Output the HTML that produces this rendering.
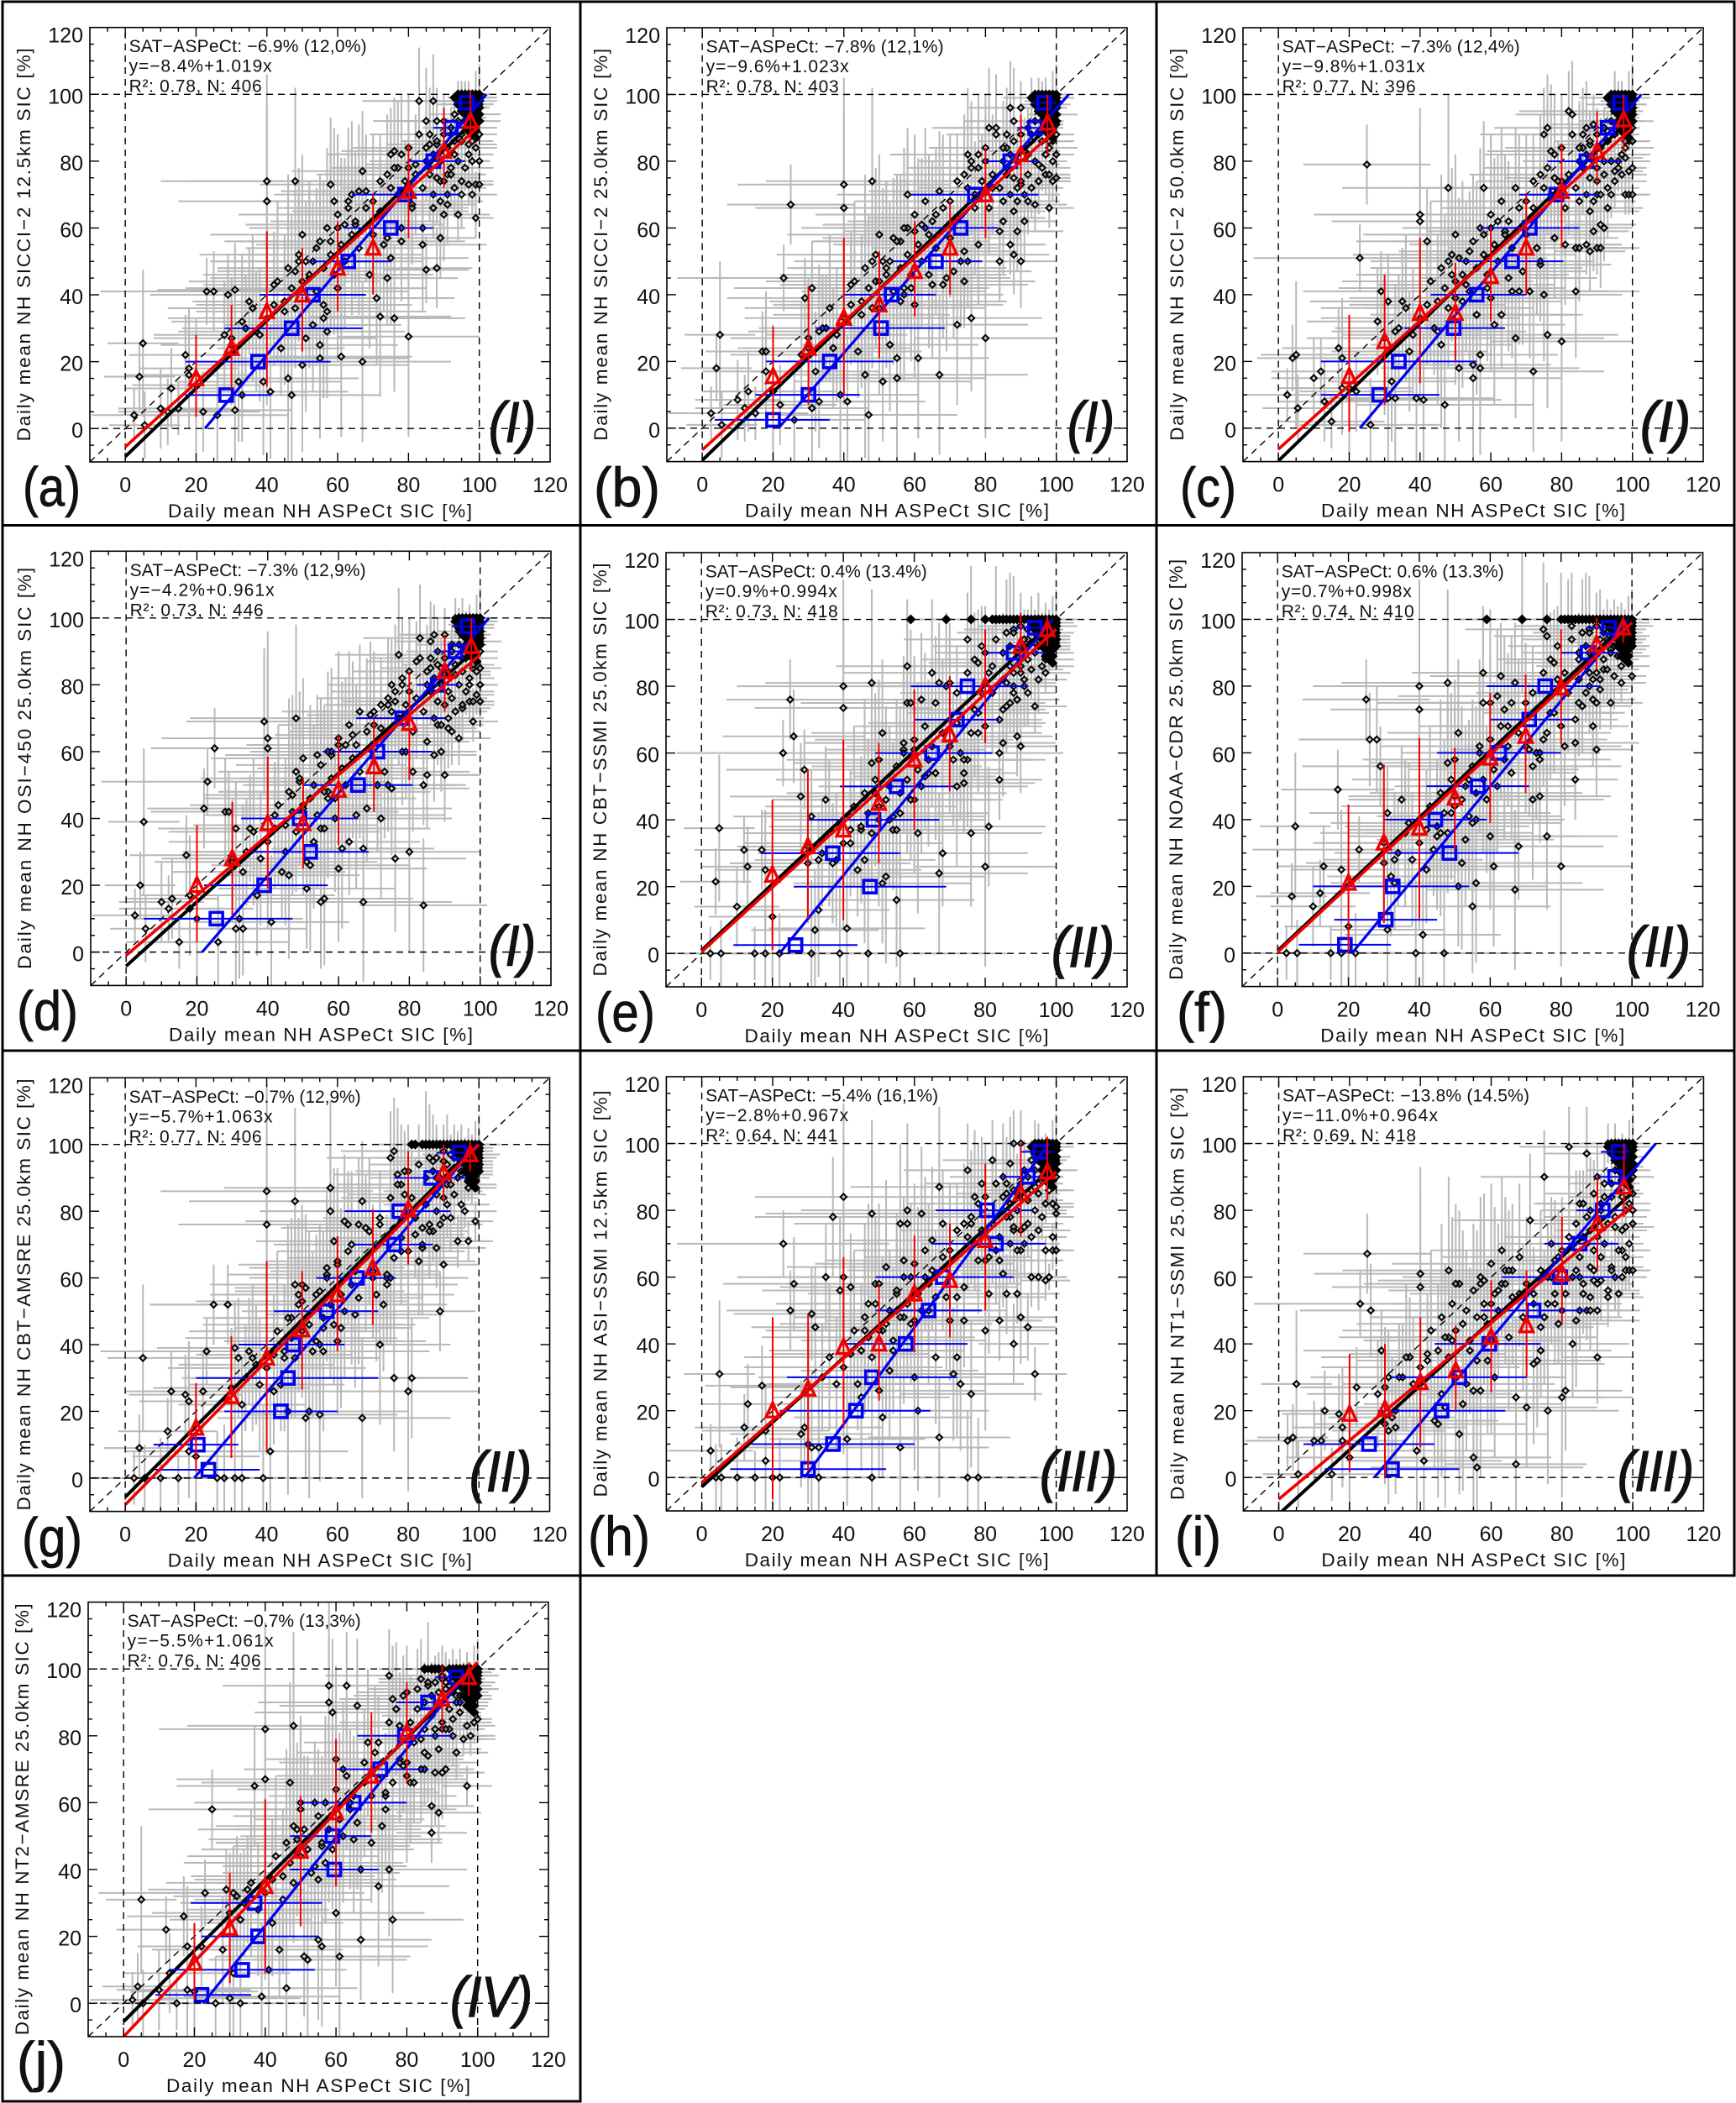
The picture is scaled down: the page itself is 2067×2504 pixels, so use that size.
<!DOCTYPE html>
<html lang="en">
<head>
<meta charset="utf-8">
<title>Daily mean NH satellite SIC versus ASPeCt SIC</title>
<style>
html,body{margin:0;padding:0;background:#fff;}
svg{display:block;}
text{font-family:"Liberation Sans",sans-serif;fill:#111;}
</style>
</head>
<body>
<svg id="chart" xmlns="http://www.w3.org/2000/svg" width="2067" height="2504" viewBox="0 0 2067 2504"></svg>
<script>
// ---- Shared ASPeCt values (x axis) ----
const aspectX = [
2.5,4,5,5.5,10,12,13,15,17,18,
18,20,22,23,25,26,28,29,30,31,
31,32,33,33,35,37,39,40,40,41,
42,44,45,46,47,48,48,49,50,51,
51,52,53,54,55,55,56,56,57,57,
58,58,59,60,60,61,62,63,64,65,
66,67,67,68,69,70,71,72,72,73,
74,74,75,75,76,76,77,78,78,79,
80,80,81,82,83,84,84,85,85,86,
86,87,87,88,88,88,89,89,90,90,
90,91,91,92,92,93,93,94,94,95,
95,95,96,96,96,97,97,97,97,98,
98,98,98,98,99,99,99,99,99,99,
100,100,100,100,100,100,100,100,100,100];
const aspectErr = [
12,10,10,10,12,14,13,15,16,14,
18,18,16,30,18,20,20,22,20,22,
16,18,20,18,15,22,22,30,25,22,
20,18,25,20,25,30,22,25,30,25,
20,28,25,20,22,25,25,30,22,28,
30,20,22,20,25,20,28,20,22,25,
22,20,25,24,18,20,22,20,25,18,
20,15,22,18,20,15,18,14,18,16,
20,14,16,14,16,18,12,15,12,14,
10,12,10,10,14,9,10,12,10,9,
12,8,10,8,10,10,7,9,6,8,
10,6,9,6,5,7,8,5,4,7,
5,8,4,6,5,4,6,3,5,4,
4,3,5,2,6,3,4,2,5,3];
const satErr = [
8,10,22,10,12,10,12,8,12,18,
14,20,12,10,12,14,16,12,18,14,
22,18,20,14,16,18,22,32,28,20,
16,14,22,25,30,28,18,20,26,18,
22,26,20,18,20,24,20,24,18,26,
26,20,22,28,22,24,20,16,22,22,
20,18,24,16,22,18,20,24,16,20,
14,18,20,14,22,16,20,16,18,14,
30,14,18,12,16,20,12,16,10,14,
12,14,9,12,16,10,12,9,14,10,
8,12,9,10,7,9,6,8,7,10,
6,8,5,7,4,6,4,8,3,6,
4,3,5,2,6,4,3,5,2,7,
5,3,8,4,2,6,3,5,2,9];

// ---- Satellite SIC values per panel (y axis) ----
const satA = [
4,15.5,25.5,1,6,5,12,6,22,18,
16,13,5,41,41,4,28,40,25,41.5,
5.5,14,32,10,38,29,14,74,68,11,
43,24,35,15,10,74,47,50,19,50,
27,45,31,54,25,21,37,33,29,35,
56,73,68,60,42,21.5,61,66,70,61,
71,77,20,71,46,58,39,33.5,65,55,
45,57,51,82,33,83,78,60,56,70,
27.5,78,67,79,98,55,60,92,47.5,76,
85,98,66,48,85,92,57,74,64,84,
92,67,76,78,88,82,94,64,97,70,
98,86,90,97,99,73,85,96,100,70,
80,92,96,99,63,73,84,93,97,100,
73,80,88,92,94,96,97,98,99,100];
const satB = [
4.5,18,28,1,8.5,6,11,4.5,23,23,
17,11,7,45,67,2.5,22,39,24,42,
6,17,29,8,30,24,10,73,66,8,
43,23,34,16,4,74,50,44,36,14,
50,48,25,57,21,15,56,38,42,40,
60,70,42,59,37,21,61,60,46,43,
64,71,16,43,45,57,47,31,63,50,
44,53,82,50,33,80,66,78,55,74,
27,80,90,72,90,59,50,62,68,76,
84,96,55,52,92,65,59,72,50,73,
96,62,83,68,82,88,99,67,92,74,
99,79,86,97,98,76,82,97,100,66,
76,84,96,99,74,80,86,92,97,100,
75,82,88,91,94,96,97,98,99,100];
const satC = [
10,21,22,6,15,17,8,2,24,21,
12,12,11,51,79,1,32,41,22,38,
9,14,9,29,38,23,9,64,62,8.5,
56,30,29,25,7,72,50,46,39,51,
18,38,43,53,19,15,34,34,22,18,
58,72,42,60,39,31,62,34,59,45,
41,72,27,41,47,58,41,17,66,54,
49,50,40,88,28,90,83,75,57,70,
26,74,55,95,94,41,54,54,68,78,
84,90,55,53,65,85,59,91,78,70,
54,54,61,60,80,66,89,92,70,97,
99,77,80,97,98,76,82,96,100,70,
81,84,92,99,70,77,86,93,97,100,
70,78,86,90,92,95,97,98,99,100];
const satD = [
11,20,39,7,15,13,16,3,29,17,
13,10,43,51,61,3,42,42,28,37,
7,10,24,7,37,17,69,64,61,9,
41,24,30,23,47,70,54,51,43,19,
27,26,33,59,15,37,16,37,46,48,
59,60,40,62,25,31,62,33,65,41,
72,31,15,43,71,72,50,40,67,54,
50,74,49,80,28,75,89,60,80,60,
30,78,54,87,94,14,50,53,63,85,
93,59,95,68,75,90,60,85,53,83,
95,67,78,66,92,83,100,64,96,73,
100,84,88,94,98,75,80,96,99,69,
75,85,93,99,77,84,90,95,98,100,
75,80,85,90,93,95,97,98,99,100];
const satE = [
0,21.5,37.5,0,14,31,26,0,31,25,
0,11,0,60,76,65,47,55,32,41,
0,7,13,28,46,27,0,80,73.5,7.5,
33,25,37,28,0,81,57,48,40,21,
66,23,40,37,16,37,42,0,61,63,
75,86,75,61,46,36,76,53,54,84,
75,81,24,30,80,81,58,50,69,60,
51,54,58,94,36,100,73,87,66,78,
26,90,38,86,100,60,52,63,73,81,
100,100,75,78,97,84,65,76,62,86,
100,80,92,78,94,98,100,74,93,82,
100,100,86,95,98,84,88,97,100,90,
94,100,97,98,92,96,99,100,95,100,
93,95,96,97,98,98,99,99,100,100];
const satF = [
0,17,38,0,14,18,26,0,49,25,
0,8,0,31,76,64,64,56,33,42,
7,23,28,21,46,39,0,80,73,5.5,
25,31,35,36,0,81,57,42,47,20,
66,27,34,52,14,39,40,21,62,62,
75,84,46,75,35,26,77,83,73,68,
75,81,19,32,100,75,61,46,56,60,
47,60,97,64,35,95,72,87,72,82,
26,100,62,100,98,63,52,75,88,74,
100,100,78,84,97,90,68,82,61,75,
100,79,100,85,96,94,100,75,91,83,
100,93,89,97,98,81,86,97,100,92,
95,100,96,98,94,96,99,100,97,100,
83,93,95,97,98,98,99,99,100,100];
const satG = [
0,9,36,0,0,14,26,0,25,23,
8,6.5,26,38,52,0,0,52,27,39,
0,36,0,22,38,34,0,86,76,8,
26,28,36,20,48,83,58,55,53,18,
57,20,38,55,19,40,45,38,63,61,
87,80,71,65,41,45,77,76,70,49,
76,83,18,75,74,60,55,40,76,52,
60,61,60,96,30,98,91,68,88,85,
26,92,30,73,65,69,75,100,100,76,
100,95,74,69,90,85,50,88,64,78,
95,88,100,78,92,96,100,71,97,82,
100,91,80,92,98,71,87,97,100,88,
93,100,97,98,77,91,97,99,95,100,
93,95,96,97,97,98,99,99,100,100];
const satH = [
8,0,31,0,0,15,22,0,27.5,5,
14,0,0,70,50,58,13,15,10,49,
9,45,9,0,60,78,56,60,84,11.5,
57,28,24,44,52,79,0,58,26,18,
44,63,32,38,50,55,9,76,65,48,
80,76,60,30,47,20,79,60,50,71,
36,12,87,76,54,47,31,36,54,28,
47,57,0,92,25,76,84,65,0,88,
44,65,55,95,68,65,47,90,61,85,
55,94,78,40,74,100,85,55,48,100,
68,75,92,45,83,60,95,31,100,60,
100,85,78,92,98,59,68,90,100,86,
60,92,96,99,68,72,82,90,96,100,
68,79,81,90,92,95,96,98,99,100];
const satI = [
11,12,28,1,11,11,20,1,19,15,
11,6,27,52,67,50,25,38,16,30,
14,18,15,20,30,36,8,61,57,5,
35,17,16,25,21,62,42,41,30,13,
58,22,28,38,6,26,35,3,58,26,
59,48,35,41,52,30,56,58,62,42,
62,4,24,55,48,21,77,34,52,35,
38,45,48,90,20,60,60,55,52,66,
24,50,26,99,40,47,62,60,82,72,
55,97,50,50,80,63,59,68,36,90,
50,59,82,70,84,54,100,63,88,60,
100,75,92,55,97,60,68,84,100,62,
66,75,92,99,62,70,82,90,96,100,
62,76,80,85,90,93,96,98,99,100];
const satJ = [
1,5,31,0,4,22,9,0,26,17,
4,3.5,17,33,58,0,16,34,1.5,33,
9,32,25,0,34,65,2,82,67,10,
24,16,31,4.5,66,83,53,49,60,14,
52,13,39,60,37,19,47,17,42,60,
95,90,87,73,27,14,70,95,60,49,
89,19,40,72,78,48,75,35,67,53,
62,63,40,98,25,91,88,83,73,71,
72,93,66,66,88,79,97,75,70,100,
95,59,51,82,69,88,93,57,69,97,
82,70,96,82,95,80,100,75,92,90,
100,87,79,95,98,65,83,97,100,80,
89,94,97,99,84,92,96,99,95,100,
85,94,96,97,98,98,99,99,100,100];

// ---- Extra mid-range points read around the one-to-one line ----
const midX = [30,34,36,38,40,42,43,45,46,47,48,49,50,50,52,53,54,55,56,57,58,59,60,61,62,63,64,65,66,68];
const midY = [27,30,36,28,33,37,44,38,48,42,36,52,44,58,46,50,41,56,48,60,52,46,64,55,50,68,58,62,54,66];
const midErrX = [22,18,24,20,28,22,25,26,20,30,24,28,22,26,30,20,26,24,30,22,26,20,28,24,22,20,26,24,18,22];
const midErrY = [18,16,22,20,26,18,24,20,28,22,18,26,20,24,28,18,22,20,26,24,22,18,24,26,20,22,24,18,20,22];

// ---- Extra high-concentration band points ----
const bandX = [70,72,74,75,76,77,78,79,80,81,82,83,84,85,85,86,86,87,87,88,88,89,89,90,90,91,91,92,92,93,93,94,94,95,95,96,96,97,97,98];
const bandLow = [68,74,76,72,78,70,82,74,84,66,76,88,72,80,84,78,88,70,82,75,86,68,80,74,88,70,84,76,90,72,86,80,92,74,88,78,90,82,94,86];
const bandHigh = [62,78,58,84,66,88,72,92,68,84,78,94,70,90,82,96,74,86,92,80,96,76,90,84,98,82,94,88,97,85,93,90,98,92,96,94,98,91,99,95];
const bandI = [58,55,62,48,52,70,65,46,68,55,72,60,76,50,66,82,58,70,78,54,74,62,85,58,72,80,66,88,70,56,76,84,62,78,92,68,86,74,90,80];
const bandErrX = [18,16,20,14,18,15,20,14,16,12,18,14,12,16,12,14,10,14,12,12,10,12,14,10,12,10,9,10,8,9,10,8,7,9,6,8,6,7,5,6];
const bandErrY = [20,14,18,16,20,14,18,12,16,14,18,12,16,12,14,10,14,12,10,14,8,12,10,12,8,10,9,10,6,9,7,8,5,8,4,7,4,6,3,5];

// ---- Dense high-concentration cluster and points capped at 100 % ----
const clusterX = [93,94,94,95,95,95,96,96,96,96,97,97,97,97,97,98,98,98,98,98,99,99,99,99,99,99,100,100,100,100,100,100,96,97,98,99,98,99,97,99];
const clusterY = [99,97,100,95,98,100,94,96,98,100,93,95,97,99,100,92,94,96,98,100,91,93,95,97,99,100,92,94,96,98,99,100,92,91,90,89,88,87,89,91];
const cappedNone = [];
const cappedE = [59,69,76,80,82,83,84,85,86,87,88,89,90,91,92,93,94,95,96,97,98,99,100];
const cappedF = [59,69,76,80,81,82,83,84,85,86,87,88,89,90,91,92,93,94,95,96,97,98,99,100];
const cappedG = [81,82,84,85,86,87,88,89,90,91,92,93,94,95,96,97,98,99,100];
const cappedJ = [85,87,88,89,90,92,93,94,95,96,97,98,99,100];

// ---- Red bins (x bin centres; each panel: mean, low, high of y) ----
const redBins = [20,30,40,50,60,70,80,90,97.5];
const redA = [[15,3.5,28],[24,12,37],[35,12.5,59],[40,23,54],[48,35,62],[54,40,70],[71,57,85],[83,72,96],[92,85,101]];
const redB = [[15.5,3,30.5],[24,7,42.5],[33,10,57],[37,21,53],[47,33.5,62],[54,40,68],[70,57,84],[82,72,94],[91.5,82,100]];
const redC = [[15.5,-1,34],[26,7,46],[34.5,13.5,57],[34.5,20,49.5],[45.5,32,60.5],[54,40,70],[71,54,85],[83,73,95],[92.5,83,100]];
const redD = [[20,3,38],[28,11,45],[38.5,19,58.5],[38.5,25,52],[48.5,32,65],[55.5,42,70],[68.5,51.5,84],[84,72,95],[91.5,84,100]];
const redE = [[23.5,1,46],[32,10.5,55],[37,10,64],[45,27,63],[58,37,79],[65.5,48.5,83],[80,63,97],[92,84,102],[97,92,101]];
const redF = [[21,0,44.5],[33,9,56.5],[37.5,10,64.5],[46.5,31,61.5],[58.5,39,78],[65,48,83.5],[79.5,62.5,97],[92.5,85,100.5],[97.5,93,101]];
const redG = [[15,2,28.5],[24.5,6,42.5],[36,8,65],[44.5,26.5,62],[55,38,72.5],[63,46,80.5],[80.5,64,98],[91.5,83,100],[97,92,101]];
const redH = [[20,-6.5,48],[26.5,2,49],[39,15,66],[40,23,58],[55,37.5,72.5],[59,42,76],[71,50,94],[85,72,100],[91.5,83,102]];
const redI = [[19,1.5,37],[20.5,0,40],[28.5,9,48],[32,20,45.5],[42,25.5,59],[45.5,30,62],[61,46,78],[76,62,90],[87,78,100]];
const redJ = [[12,1,24],[22.5,6,39],[35,9,61],[45.5,23,62],[57,35,79],[68,51,87],[81,66,96],[91,81,101],[97.5,92,102]];

// ---- Blue bins (each entry: y bin, mean x, low x, high x) ----
const blueA = [[10,28.5,17,41],[20,37.5,17,58],[30,47,28,67],[40,53,38,68],[50,63,52,75],[60,75,62,87],[70,79,64,94],[80,87,80,96],[90,92,87,96],[97.5,96.5,93,100]];
const blueB = [[2.5,20,3.5,36],[10,30,15,44.5],[20,36,18,54],[30,50.5,32,68.5],[40,53.5,40,66],[50,66,54,79],[60,73,62,83.5],[70,77,59,95],[80,87,80,95],[90,94,89,97],[97.5,96.5,93,100]];
const blueC = [[10,28.5,12,45.5],[20,34,12,56],[30,49.5,35.5,64],[40,56,43,70],[50,66,51,80.5],[60,71,57,85],[70,78.5,68,90],[80,87,76,97],[90,93,88,96],[97.5,96.5,93,100]];
const blueD = [[10,25.5,5,47],[20,39,22,57],[30,52,35,68.5],[40,49,32.5,65.5],[50,65.5,50,81],[60,71,55.5,86.5],[70,78,65,90],[80,88,82,94],[90,93,87,96],[97.5,96.5,92,100]];
const blueE = [[2.5,26.5,9,44],[20,47.5,26,69],[30,37,17,56],[40,48.5,30,67],[50,55,39,71],[60,65,49,82],[70,72,60,84],[80,75,59,92],[90,88,80,97],[97.5,94,88,98]];
const blueF = [[2.5,19,6,32],[10,30.5,16,45],[20,32.5,10,54],[30,48.5,31,68],[40,44.5,30,59],[50,56.5,42,71],[60,62.5,45,80],[70,71,60,83],[80,75.5,59,91],[90,87.5,80,96],[97.5,93.5,87,97]];
const blueG = [[2.5,23.5,8.5,38],[10,20.5,8,32],[20,44,28,60],[30,46,20,71.5],[40,47.5,32,62],[50,57,42,71.5],[60,65.5,54,76.5],[70,76,65,87],[80,77.5,62,92],[90,86.5,76,96.5],[97.5,94.5,88,98]];
const blueH = [[2.5,30,8,52],[10,37,14,60],[20,43.5,22,64.5],[30,48,24,72],[40,57.5,40,75],[50,64,49,79],[60,68,49,88],[70,83,65,97],[80,80.5,66,93],[90,92,84,97],[97.5,95.5,90,99]];
const blueI = [[2.5,32,13,51],[10,25.5,7,44],[20,46,28,64],[30,51,32,70],[40,59.5,44,74],[50,72,57,87],[60,79.5,63,96],[70,85,75,96],[80,91.5,84,97],[90,95,90,98],[97.5,96,91,99]];
const blueJ = [[2.5,22,9,36],[10,33.5,13,54],[20,38,22,55],[30,37,19,56],[40,59.5,47,72],[50,59,47,70],[60,65,50,80],[70,72.5,60,86],[80,79.5,66,93],[90,86,77,96],[97.5,94,88,98]];

// ---- Fits: black intercept, black slope, red y at x=0, red y at x=100, blue x at y=0, blue x at y=100 ----
const fitA = [-8.4,1.019,-5.5,90.5,22.5,102];
const fitB = [-9.6,1.023,-6.5,89.5,21.5,103.5];
const fitC = [-9.8,1.031,-6.3,90,23,102.5];
const fitD = [-4.2,0.961,-1,89,21.5,102.5];
const fitE = [0.9,0.994,0.5,97,22,99];
const fitF = [0.7,0.998,0.3,99,21,99];
const fitG = [-5.7,1.063,-8,100,19.5,99.5];
const fitH = [-2.8,0.967,-1.5,91.5,29,98];
const fitI = [-11,0.964,-6.5,81.5,27,106.5];
const fitJ = [-5.5,1.061,-10,102,22.5,98];

// ---- Axis tick labels ----
const tickLabels = [0,20,40,60,80,100,120];
const minorTicks = [-5,0,5,10,15,20,25,30,35,40,45,50,55,60,65,70,75,80,85,90,95,100,105,110,115];

const xTitle = 'Daily mean NH ASPeCt SIC [%]';

// ---- Panel text and layout ----
const panels = [
 {id:'a',box:[107,655,32.7,550],yTitle:'Daily mean NH SICCI\u22122 12.5km SIC [%]',yLen:468,
  notes:['SAT\u2212ASPeCt: \u22126.9% (12,0%)','y=\u22128.4%+1.019x','R\u00b2: 0.78, N: 406'],noteLen:[283,170,158],
  tag:'(a)',tagX:[27,96],roman:'(I)',romanX:[582,638],sat:satA,band:bandLow,red:redA,blue:blueA,fit:fitA,capped:cappedNone},
 {id:'b',box:[794,1342,33,549.6],yTitle:'Daily mean NH SICCI\u22122 25.0km SIC [%]',yLen:467,
  notes:['SAT\u2212ASPeCt: \u22127.8% (12,1%)','y=\u22129.6%+1.023x','R\u00b2: 0.78, N: 403'],noteLen:[283,170,158],
  tag:'(b)',tagX:[707,786],roman:'(I)',romanX:[1271,1327],sat:satB,band:bandLow,red:redB,blue:blueB,fit:fitB,capped:cappedNone},
 {id:'c',box:[1480,2028,33,549.6],yTitle:'Daily mean NH SICCI\u22122 50.0km SIC [%]',yLen:467,
  notes:['SAT\u2212ASPeCt: \u22127.3% (12,4%)','y=\u22129.8%+1.031x','R\u00b2: 0.77, N: 396'],noteLen:[283,170,159],
  tag:'(c)',tagX:[1405,1472],roman:'(I)',romanX:[1953,2013],sat:satC,band:bandLow,red:redC,blue:blueC,fit:fitC,capped:cappedNone},
 {id:'d',box:[108,656,656.3,1173.4],yTitle:'Daily mean NH OSI\u2212450 25.0km SIC [%]',yLen:478,
  notes:['SAT\u2212ASPeCt: \u22127.3% (12,9%)','y=\u22124.2%+0.961x','R\u00b2: 0.73, N: 446'],noteLen:[281,172,159],
  tag:'(d)',tagX:[20,93],roman:'(I)',romanX:[582,638],sat:satD,band:bandLow,red:redD,blue:blueD,fit:fitD,capped:cappedNone},
 {id:'e',box:[793,1342,658,1175],yTitle:'Daily mean NH CBT\u2212SSMI 25.0km SIC [%]',yLen:492,
  notes:['SAT\u2212ASPeCt: 0.4% (13.4%)','y=0.9%+0.994x','R\u00b2: 0.73, N: 418'],noteLen:[264,157,158],
  tag:'(e)',tagX:[709,780],roman:'(II)',romanX:[1252,1327],sat:satE,band:bandHigh,red:redE,blue:blueE,fit:fitE,capped:cappedE},
 {id:'f',box:[1479,2027.5,658,1174.6],yTitle:'Daily mean NH NOAA\u2212CDR 25.0km SIC [%]',yLen:501,
  notes:['SAT\u2212ASPeCt: 0.6% (13.3%)','y=0.7%+0.998x','R\u00b2: 0.74, N: 410'],noteLen:[265,155,158],
  tag:'(f)',tagX:[1401,1461],roman:'(II)',romanX:[1937,2013],sat:satF,band:bandHigh,red:redF,blue:blueF,fit:fitF,capped:cappedF},
 {id:'g',box:[107,654.5,1283.3,1799.6],yTitle:'Daily mean NH CBT\u2212AMSRE 25.0km SIC [%]',yLen:514,
  notes:['SAT\u2212ASPeCt: \u22120.7% (12,9%)','y=\u22125.7%+1.063x','R\u00b2: 0.77, N: 406'],noteLen:[276,171,158],
  tag:'(g)',tagX:[26,98],roman:'(II)',romanX:[559,633],sat:satG,band:bandHigh,red:redG,blue:blueG,fit:fitG,capped:cappedG},
 {id:'h',box:[793.4,1342,1282,1799],yTitle:'Daily mean NH ASI\u2212SSMI 12.5km SIC [%]',yLen:484,
  notes:['SAT\u2212ASPeCt: \u22125.4% (16,1%)','y=\u22122.8%+0.967x','R\u00b2: 0.64, N: 441'],noteLen:[277,170,157],
  tag:'(h)',tagX:[700,774],roman:'(III)',romanX:[1238,1330],sat:satH,band:bandLow,red:redH,blue:blueH,fit:fitH,capped:cappedNone},
 {id:'i',box:[1480.4,2028.4,1282,1799],yTitle:'Daily mean NH NT1\u2212SSMI 25.0km SIC [%]',yLen:491,
  notes:['SAT\u2212ASPeCt: \u221213.8% (14.5%)','y=\u221211.0%+0.964x','R\u00b2: 0.69, N: 418'],noteLen:[294,185,159],
  tag:'(i)',tagX:[1399,1454],roman:'(III)',romanX:[1926,2017],sat:satI,band:bandI,red:redI,blue:blueI,fit:fitI,capped:cappedNone},
 {id:'j',box:[105,653,1907.6,2425],yTitle:'Daily mean NH NT2\u2212AMSRE 25.0km SIC [%]',yLen:514,
  notes:['SAT\u2212ASPeCt: \u22120.7% (13,3%)','y=\u22125.5%+1.061x','R\u00b2: 0.76, N: 406'],noteLen:[278,174,159],
  tag:'(j)',tagX:[20,78],roman:'(IV)',romanX:[536,634],sat:satJ,band:bandHigh,red:redJ,blue:blueJ,fit:fitJ,capped:cappedJ}
];

// ---- Frame layout ----
const frames = [
 [3,2,688,623.5],[691,2,686,623.5],[1377,2,688,623.5],
 [3,625.5,688,625.5],[691,625.5,686,625.5],[1377,625.5,688,625.5],
 [3,1251,688,625],[691,1251,686,625],[1377,1251,688,625],
 [3,1876,688,626]
];

const NS = 'http://www.w3.org/2000/svg';
const root = document.getElementById('chart');

function make(parent, tag, attrs, content) {
  const node = document.createElementNS(NS, tag);
  for (const key in attrs) node.setAttribute(key, attrs[key]);
  if (content !== undefined) node.textContent = content;
  parent.appendChild(node);
  return node;
}

frames.forEach(function (f) {
  const frame = make(root, 'rect', {x:f[0], y:f[1], width:f[2], height:f[3], fill:'none', stroke:'#000', 'stroke-width':3});
  
  
});

panels.forEach(function (p) {
  const L = p.box[0], R = p.box[1], T = p.box[2], B = p.box[3];
  const sx = function (v) { return L + (v + 10) / 130 * (R - L); };
  const sy = function (v) { return B - (v + 10) / 130 * (B - T); };

  const g = make(root, 'g', {});
  
  

  const clip = make(g, 'clipPath', {id:'clip-' + p.id});
  make(clip, 'rect', {x:L, y:T, width:R - L, height:B - T});

  const plot = make(g, 'g', {'clip-path':'url(#clip-' + p.id + ')'});
  
  

  // grey error bars
  function errorBars(x, y, ex, ey) {
    const hBar = make(plot, 'line', {x1:sx(x - ex), x2:sx(x + ex), y1:sy(y), y2:sy(y), stroke:'#b8b8b8', 'stroke-width':2});
    
    
    const vBar = make(plot, 'line', {x1:sx(x), x2:sx(x), y1:sy(y - ey), y2:sy(y + ey), stroke:'#b8b8b8', 'stroke-width':2});
    
    
  }
  aspectX.forEach(function (x, i) { errorBars(x, p.sat[i], aspectErr[i], satErr[i]); });
  midX.forEach(function (x, i) { errorBars(x, midY[i], midErrX[i], midErrY[i]); });
  bandX.forEach(function (x, i) { errorBars(x, p.band[i], bandErrX[i], bandErrY[i]); });

  // reference dashed lines
  const dashStyle = {stroke:'#000', 'stroke-width':1.4, 'stroke-dasharray':'8 6', fill:'none'};
  [[-10, -10, 120, 120, 'one-to-one-line'], [0, -10, 0, 120, 'zero-x-line'], [100, -10, 100, 120, 'hundred-x-line'], [-10, 0, 120, 0, 'zero-y-line'], [-10, 100, 120, 100, 'hundred-y-line']].forEach(function (d) {
    const dash = make(plot, 'line', Object.assign({x1:sx(d[0]), y1:sy(d[1]), x2:sx(d[2]), y2:sy(d[3])}, dashStyle));
    
    
  });

  // scatter points
  function diamond(x, y, solid) {
    const cx = sx(x), cy = sy(y), r = solid ? 4.6 : 3.7;
    const pt = make(plot, 'polygon', {points:[cx - r, cy, cx, cy - r, cx + r, cy, cx, cy + r].join(' '), fill:solid ? '#000' : '#ddd', 'fill-opacity':solid ? 1 : 0.5, stroke:'#000', 'stroke-width':2});
    
    
  }
  aspectX.forEach(function (x, i) { diamond(x, p.sat[i], false); });
  midX.forEach(function (x, i) { diamond(x, midY[i], false); });
  bandX.forEach(function (x, i) { diamond(x, p.band[i], false); });
  clusterX.forEach(function (x, i) { diamond(x, clusterY[i], true); });
  p.capped.forEach(function (x) { diamond(x, 100, true); });

  // black regression
  const black = make(plot, 'line', {x1:sx(0), y1:sy(p.fit[0]), x2:sx(100), y2:sy(p.fit[0] + p.fit[1] * 100), stroke:'#000', 'stroke-width':4});
  
  

  // blue line, bars and squares
  const blueLine = make(plot, 'line', {x1:sx(p.fit[4]), y1:sy(0), x2:sx(p.fit[5]), y2:sy(100), stroke:'#0000f0', 'stroke-width':3.2});
  
  
  p.blue.forEach(function (b) {
    const bar = make(plot, 'line', {x1:sx(b[2]), x2:sx(b[3]), y1:sy(b[0]), y2:sy(b[0]), stroke:'#0000f0', 'stroke-width':2});
    
    
    const s = 15;
    const sq = make(plot, 'rect', {x:sx(b[1]) - s / 2, y:sy(b[0]) - s / 2, width:s, height:s, fill:'none', stroke:'#0000f0', 'stroke-width':3.6});
    
    
  });

  // red line, bars and triangles
  const redLine = make(plot, 'line', {x1:sx(0), y1:sy(p.fit[2]), x2:sx(100), y2:sy(p.fit[3]), stroke:'#f00000', 'stroke-width':3.6});
  
  
  redBins.forEach(function (x, i) {
    const r = p.red[i];
    const bar = make(plot, 'line', {x1:sx(x), x2:sx(x), y1:sy(r[1]), y2:sy(r[2]), stroke:'#f00000', 'stroke-width':2});
    
    
    const cx = sx(x), cy = sy(r[0]);
    const tri = make(plot, 'polygon', {points:[cx - 8, cy + 7.5, cx + 8, cy + 7.5, cx, cy - 9.5].join(' '), fill:'none', stroke:'#f00000', 'stroke-width':3.4});
    
    
  });

  // plot box
  const box = make(g, 'rect', {x:L, y:T, width:R - L, height:B - T, fill:'none', stroke:'#000', 'stroke-width':1.6});
  
  

  // ticks
  minorTicks.forEach(function (v) {
    const len = (v % 20 === 0) ? 11 : 5;
    const xb = make(g, 'line', {x1:sx(v), x2:sx(v), y1:B, y2:B - len, stroke:'#000', 'stroke-width':1.4});
    
    
    const xt = make(g, 'line', {x1:sx(v), x2:sx(v), y1:T, y2:T + len, stroke:'#000', 'stroke-width':1.4});
    
    
    const yl = make(g, 'line', {x1:L, x2:L + len, y1:sy(v), y2:sy(v), stroke:'#000', 'stroke-width':1.4});
    
    
    const yr = make(g, 'line', {x1:R, x2:R - len, y1:sy(v), y2:sy(v), stroke:'#000', 'stroke-width':1.4});
    
    
  });
  tickLabels.forEach(function (v) {
    const xl = make(g, 'text', {x:sx(v), y:B + 36, 'text-anchor':'middle', 'font-size':25}, String(v));
    
    
    const yl = make(g, 'text', {x:L - 8, y:sy(v) + (v === 120 ? 18 : 11), 'text-anchor':'end', 'font-size':25}, String(v));
    
    
  });

  // titles
  const xt = make(g, 'text', {x:(L + R) / 2, y:B + 66, 'text-anchor':'middle', 'font-size':22.5, textLength:362, lengthAdjust:'spacing'}, xTitle);
  
  
  const yx = L - 71, yy = (T + B) / 2;
  const yt = make(g, 'text', {x:yx, y:yy, transform:'rotate(-90 ' + yx + ' ' + yy + ')', 'text-anchor':'middle', 'font-size':22.5, textLength:p.yLen, lengthAdjust:'spacing'}, p.yTitle);
  
  

  // annotations
  [29.5, 53, 77].forEach(function (dy, i) {
    const note = make(g, 'text', {x:sx(0) + 4.5, y:T + dy, 'font-size':21, textLength:p.noteLen[i], lengthAdjust:'spacing'}, p.notes[i]);
    
    
  });

  // panel letter and class label
  const tag = make(g, 'text', {x:p.tagX[0], y:T + 570, 'font-size':66, stroke:'#111', 'stroke-width':0.8, textLength:p.tagX[1] - p.tagX[0], lengthAdjust:'spacingAndGlyphs'}, p.tag);
  
  
  const roman = make(g, 'text', {x:p.romanX[0], y:B - 24, 'font-size':68, 'font-style':'italic', stroke:'#111', 'stroke-width':1.5, textLength:p.romanX[1] - p.romanX[0], lengthAdjust:'spacingAndGlyphs'}, p.roman);
  
  
});
</script>
</body>
</html>
